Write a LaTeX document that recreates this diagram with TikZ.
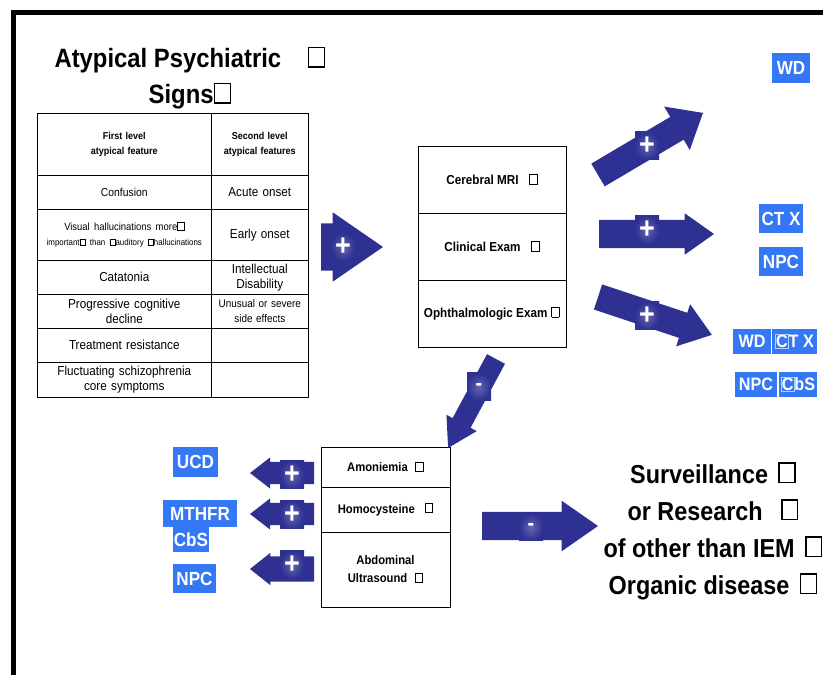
\documentclass[tikz,border=0pt]{standalone}
\usepackage{fontspec}
\setmainfont{Liberation Sans}[FakeStretch=0.9]
\usetikzlibrary{matrix,positioning,shapes.arrows}

\definecolor{arrblue}{RGB}{46,49,146}
\definecolor{tagblue}{RGB}{52,120,246}

\newcommand{\fs}[2]{\fontsize{#1}{#2}\selectfont}
% box of a missing glyph
\newcommand{\gbox}{\hbox{\vrule width .06em\vbox to .8em{\hrule height .06em width .55em\vfil\hrule height .06em}\vrule width .06em}}
\newcommand{\cbox}[1]{{\setlength{\fboxsep}{0.4pt}\setlength{\fboxrule}{0.5pt}\fcolorbox{tagblue!35!white}{tagblue}{#1}}}

\begin{document}
\begin{tikzpicture}[x=1pt,y=1pt]

  \tikzstyle{exam} = [draw, rectangle, line width=0.8pt, inner sep=0pt, outer sep=0pt, align=center]
  \tikzstyle{tag} = [fill=tagblue, text=white, inner sep=0pt, outer sep=0pt, font=\fs{19}{22}\bfseries]
  \tikzstyle{fatarrow} = [single arrow, fill=arrblue, inner sep=0pt, outer sep=0pt, text depth=0pt, anchor=tail]
  \tikzstyle{sign} = [text=white, inner sep=0pt, minimum width=24pt, minimum height=28pt, inner color=arrblue!75!white, outer color=arrblue, font=\fs{30}{30}\bfseries]

  \useasboundingbox (0,0) rectangle (823,675);
  \draw[line width=5pt] (13.5,0) |- (823,662);

  \node[font=\fs{26.5}{36}\bfseries, align=center] (title) at (190,597) {Atypical Psychiatric\quad\gbox\\Signs\gbox};

  \matrix (feat) [matrix of nodes, nodes in empty cells, anchor=north west, inner sep=0pt, outer sep=0pt,
                  column sep=-0.6pt, row sep=-0.6pt,
                  nodes={draw, line width=0.6pt, anchor=center, align=center, inner sep=0pt, outer sep=0pt, minimum height=34pt, font=\fs{13}{15}},
                  column 1/.style={nodes={text width=170pt, minimum width=174pt}},
                  column 2/.style={nodes={text width=95pt, minimum width=97pt}},
                  row 1/.style={nodes={minimum height=62pt, font=\fs{10}{15}\bfseries}},
                  row 3/.style={nodes={minimum height=51pt}},
                  row 7/.style={nodes={minimum height=35pt}}] at (37,562)
  {
    {First level\\atypical feature} & {Second level\\atypical features} \\ %header
    |[font=\fs{11.5}{14}]| Confusion & Acute onset \\
    {\fs{10.5}{16}Visual hallucinations more\gbox\\\fs{8.8}{16}important\gbox{} than \gbox auditory \gbox hallucinations} & Early onset \\
    Catatonia & {Intellectual\\Disability} \\
    {Progressive cognitive\\decline} & |[font=\fs{11}{15}]| {Unusual or severe\\side effects} \\
    Treatment resistance & \\
    {Fluctuating schizophrenia\\core symptoms} & \\
  };

  % exams
  \node[exam, minimum width=148pt, minimum height=67pt, font=\fs{13}{17}\bfseries] (mri) at (492,495.5) {Cerebral MRI\hspace{0.8em}\gbox};
  \node[exam, minimum width=148pt, minimum height=67pt, font=\fs{13}{17}\bfseries, below=0pt of mri] (clin) {Clinical Exam\hspace{0.8em}\gbox};
  \node[exam, minimum width=148pt, minimum height=67pt, font=\fs{13}{17}\bfseries, below=0pt of clin] (oph) {Ophthalmologic Exam\hspace{0.3em}\gbox};

  % biology
  \node[exam, minimum width=129pt, minimum height=40pt, font=\fs{12.5}{18}\bfseries] (amon) at (385.5,208) {Amoniemia\hspace{0.6em}\gbox};
  \node[exam, minimum width=129pt, minimum height=45pt, font=\fs{12.5}{18}\bfseries, below=0pt of amon] (homo) {Homocysteine\hspace{0.8em}\gbox};
  \node[exam, minimum width=129pt, minimum height=75pt, font=\fs{12.5}{18}\bfseries, below=0pt of homo] (abdo) {Abdominal\\Ultrasound\hspace{0.6em}\gbox};

  % big arrows
  \node[fatarrow, minimum height=62pt, text height=47pt, single arrow head extend=11pt, single arrow tip angle=69.2] (toexam) at (321,428) {};
  \node[fatarrow, rotate=30.6, minimum height=122pt, text height=26pt, single arrow head extend=12pt, single arrow tip angle=79.6] (tomri) at (598,500) {};
  \node[fatarrow, minimum height=115pt, text height=28pt, single arrow head extend=6.5pt, single arrow tip angle=70.5] (toclin) at (599,441) {};
  \node[fatarrow, rotate=-18.4, minimum height=120pt, text height=26pt, single arrow head extend=9pt, single arrow tip angle=72.5] (tooph) at (598,378) {};
  \node[fatarrow, rotate=241.7, minimum height=101pt, text height=20pt, single arrow head extend=7pt, single arrow tip angle=62.5] (tobio) at (496,316) {};
  \node[fatarrow, minimum height=116pt, text height=28pt, single arrow head extend=11pt, single arrow tip angle=69.6] (toout) at (482,149) {};
  \node[fatarrow, rotate=180, minimum height=64pt, text height=22pt, single arrow head extend=4.5pt, single arrow tip angle=75.6] (toucd) at (314,202) {};
  \node[fatarrow, rotate=180, minimum height=64pt, text height=22pt, single arrow head extend=4.5pt, single arrow tip angle=75.6] (tomth) at (314,161) {};
  \node[fatarrow, rotate=180, minimum height=64pt, text height=25pt, single arrow head extend=3.5pt, single arrow tip angle=77] (tonpc) at (314,106) {};

  \node[sign] (pA) at (343,428) {+};
  \node[sign] (pB) at (647,529) {+};
  \node[sign] (pC) at (647,445) {+};
  \node[sign] (pD) at (647,359) {+};
  \node[sign, font=\fs{22}{22}\bfseries] (mA) at (479,288) {-};
  \node[sign, font=\fs{22}{22}\bfseries] (mB) at (531,148) {-};
  \node[sign] (pE) at (292,200) {+};
  \node[sign] (pF) at (292,160) {+};
  \node[sign] (pG) at (292,110) {+};

  % diagnoses
  \node[tag, minimum width=38pt, minimum height=30pt] (wd) at (791,607) {WD};
  \node[tag, minimum width=44pt, minimum height=29pt] (ctx) at (781,456.5) {CT X};
  \node[tag, minimum width=44pt, minimum height=29pt] (npc) at (781,413.5) {NPC};
  \node[tag, minimum width=38pt, minimum height=25pt, font=\fs{18}{20}\bfseries] (wdb) at (752,333.5) {WD};
  \node[tag, minimum width=45pt, minimum height=25pt, font=\fs{18}{20}\bfseries, right=1pt of wdb] (ctxb) {\cbox{C}T X};
  \node[tag, minimum width=42pt, minimum height=25pt, font=\fs{18}{20}\bfseries] (npcb) at (756,290.5) {NPC};
  \node[tag, minimum width=38pt, minimum height=25pt, font=\fs{18}{20}\bfseries, right=2pt of npcb] (cbsb) {\cbox{C}bS};
  \node[tag, minimum width=45pt, minimum height=30pt] (ucd) at (195.5,213) {UCD};
  \node[tag, minimum width=74pt, minimum height=27pt] (mthfr) at (200,161.5) {MTHFR};
  \node[tag, minimum width=36pt, minimum height=25pt] (cbs) at (191,135.5) {CbS};
  \node[tag, minimum width=43pt, minimum height=29pt] (npcl) at (194.5,96.5) {NPC};

  \node[font=\fs{26}{37}\bfseries, align=center] (outcome) at (713,144) {Surveillance\hspace{0.4em}\gbox\\or Research\hspace{0.7em}\gbox\\of other than IEM\hspace{0.4em}\gbox\\Organic disease\hspace{0.4em}\gbox};

\end{tikzpicture}
\end{document}
